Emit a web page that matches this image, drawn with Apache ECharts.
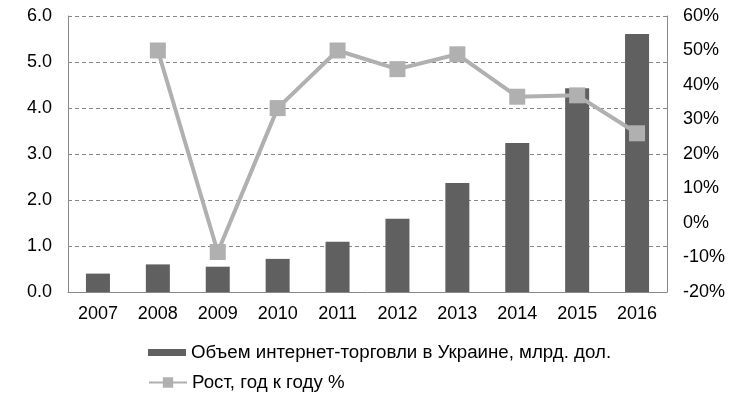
<!DOCTYPE html>
<html>
<head>
<meta charset="utf-8">
<script src="https://cdn.jsdelivr.net/npm/echarts@6/dist/echarts.min.js"></script>
<style>
  html, body { margin: 0; padding: 0; background: #fff; }
  #chart { width: 740px; height: 397px; }
</style>
</head>
<body>
<div id="chart"></div>
<script>
var years = ['2007', '2008', '2009', '2010', '2011', '2012', '2013', '2014', '2015', '2016'];
var volume = [0.4, 0.6, 0.55, 0.72, 1.09, 1.59, 2.37, 3.24, 4.43, 5.61];
var growth = [null, 50, -8.4, 33.3, 50, 44.6, 48.9, 36.6, 37, 26];
var volumeName = 'Объем интернет-торговли в Украине, млрд. дол.';
var growthName = 'Рост, год к году %';

var chart = echarts.init(document.getElementById('chart'));
var font = 'Liberation Sans, Arial, sans-serif';

chart.setOption({
  animation: false,
  textStyle: { fontFamily: font },
  grid: { left: 68, right: 73, top: 16, bottom: 105 },
  legend: [
    {
      left: 148,
      top: 343,
      padding: 0,
      itemGap: 0,
      itemWidth: 38,
      itemHeight: 7,
      textStyle: { fontSize: 18.7, color: '#000', fontFamily: font },
      data: [{ name: volumeName, icon: 'rect', itemStyle: { color: '#606060' } }]
    },
    {
      left: 148,
      top: 373,
      padding: 0,
      itemGap: 0,
      itemWidth: 38,
      itemHeight: 13,
      textStyle: { fontSize: 18.7, color: '#000', fontFamily: font },
      data: [{ name: growthName }]
    }
  ],
  xAxis: {
    type: 'category',
    data: years,
    axisLine: { lineStyle: { color: '#888' } },
    axisTick: { show: false },
    axisLabel: { fontSize: 18, color: '#000', margin: 13 }
  },
  yAxis: [
    {
      type: 'value',
      min: 0,
      max: 6,
      interval: 1,
      axisLine: { show: true, lineStyle: { color: '#888' } },
      axisTick: { show: false },
      axisLabel: { fontSize: 18, color: '#000', margin: 16, formatter: function (v) { return v.toFixed(1); } },
      splitLine: { lineStyle: { color: '#888', type: [4, 3] } }
    },
    {
      type: 'value',
      min: -20,
      max: 60,
      interval: 10,
      axisLine: { show: true, lineStyle: { color: '#888' } },
      axisTick: { show: false },
      axisLabel: { fontSize: 18, color: '#000', margin: 16, formatter: '{value}%' },
      splitLine: { show: false }
    }
  ],
  series: [
    {
      name: volumeName,
      type: 'bar',
      data: volume,
      barWidth: 24,
      itemStyle: { color: '#606060' }
    },
    {
      name: growthName,
      type: 'line',
      yAxisIndex: 1,
      data: growth,
      symbol: 'rect',
      symbolSize: 16,
      lineStyle: { color: '#b0b0b0', width: 4 },
      itemStyle: { color: '#b0b0b0' }
    }
  ]
});
</script>
</body>
</html>
